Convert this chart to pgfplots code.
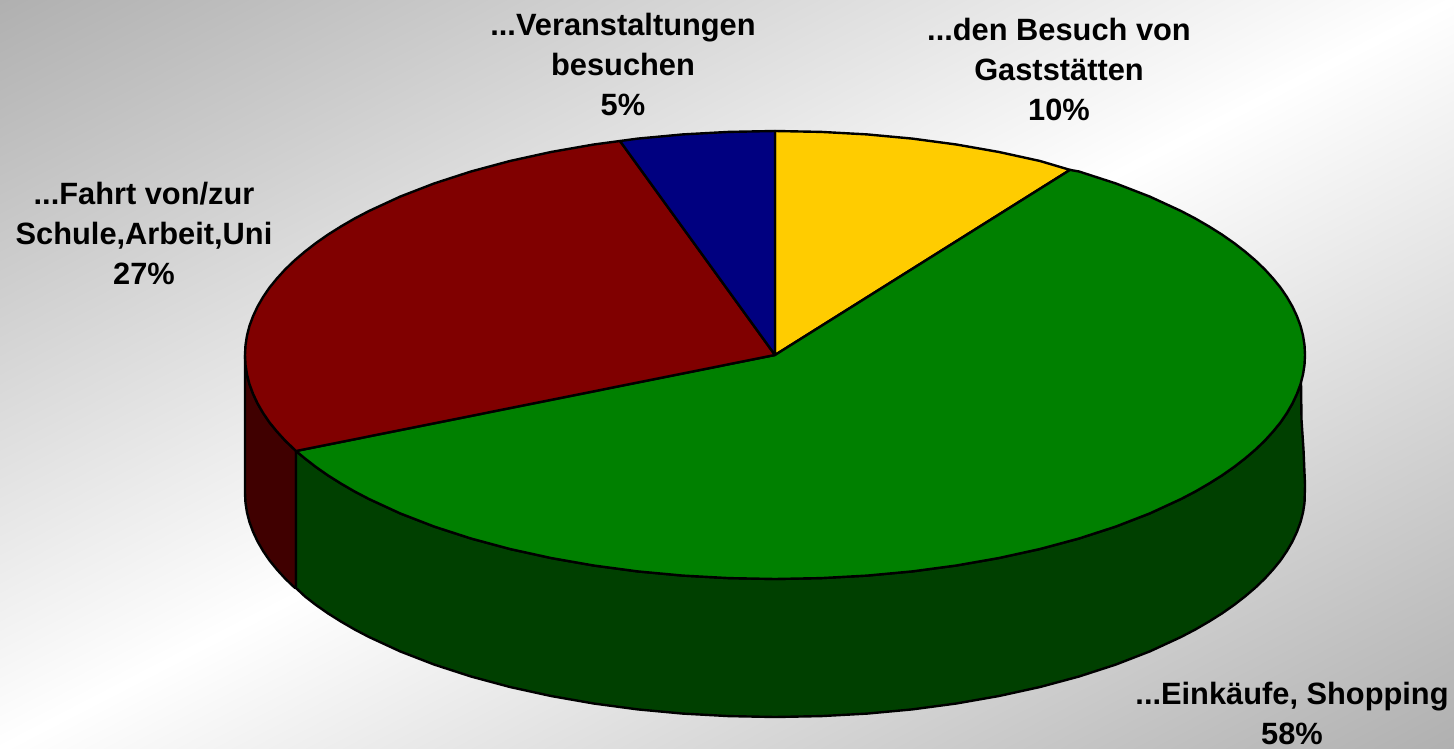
\documentclass[border=0pt]{standalone}
\usepackage{pgfplots}
\usepackage{fontspec}
\setmainfont{Liberation Sans}
\pgfplotsset{compat=1.18}
\definecolor{pieyellow}{HTML}{FFCC00}
\definecolor{piegreen}{HTML}{008000}
\definecolor{piegreendark}{HTML}{004000}
\definecolor{piered}{HTML}{800000}
\definecolor{pieredark}{HTML}{400000}
\definecolor{pieblue}{HTML}{000080}
\tikzset{lab/.style={font=\fontsize{30.8}{40}\selectfont\bfseries, align=center, text=black, inner sep=0pt}}
\begin{document}
\begin{tikzpicture}
\begin{axis}[
    width=1454pt,
    height=749pt,
    scale only axis,
    hide axis,
    xmin=0, xmax=1454,
    ymin=0, ymax=749,
    y dir=reverse,
    clip=false,
    colormap={bg}{rgb255=(176,176,176) rgb255=(255,255,255)},
    pie/.style={draw=black, line width=2.4pt, line join=round, mark=none},
]
% backdrop: two triangles split along the white diagonal
\addplot[patch, shader=interp, point meta=explicit, forget plot] coordinates {
    (0,0) [0] (1454,0) [1] (0,749) [1]
    (1454,749) [0] (1454,0) [1] (0,749) [1]
};
% side walls
\addplot[pie, fill=pieredark] coordinates {
    (245,355) (245.5,364.8) (247.0,374.5) (249.5,384.2) (253.1,393.9) (257.6,403.5) (263.1,413.0)
    (269.5,422.4) (277.0,431.6) (285.3,440.7) (294.7,449.7) (296,451)
    (296,588) (294.7,587.7) (285.3,578.7) (277.0,569.6) (269.5,560.4) (263.1,551.0) (257.6,541.5)
    (253.1,531.9) (249.5,522.2) (247.0,512.5) (245.5,502.8) (245,493)
} -- cycle;
\addplot[pie, fill=piegreendark] coordinates {
    (1301,383) (1296.9,393.9) (1292.4,403.5) (1286.9,413.0) (1280.5,422.4) (1273.0,431.6)
    (1264.7,440.7) (1255.3,449.7) (1245.1,458.4) (1234.0,467.0) (1222.0,475.4)
    (1209.1,483.5) (1195.5,491.4) (1181.0,499.0) (1149.8,513.4) (1115.7,526.6) (1079.0,538.5) (1040.0,549.0)
    (999.0,558.0) (956.3,565.5) (912.2,571.4) (867.0,575.6) (821.2,578.1) (775,579)
    (728.8,578.1) (683.0,575.6) (637.8,571.4) (593.7,565.5) (551.0,558.0) (510.0,549.0)
    (471.0,538.5) (434.3,526.6) (400.2,513.4) (369.0,499.0) (354.5,491.4) (340.9,483.5) (328.0,475.4) (316.0,467.0)
    (304.9,458.4) (296,451) (296,588)
    (304.9,596.4) (316.0,605.0) (328.0,613.4) (340.9,621.5) (354.5,629.4) (369.0,637.0) (400.2,651.4) (434.3,664.6) (471.0,676.5)
    (510.0,687.0) (551.0,696.0) (593.7,703.5) (637.8,709.4) (683.0,713.6) (728.8,716.1)
    (775,717) (821.2,716.1) (867.0,713.6) (912.2,709.4) (956.3,703.5) (999.0,696.0)
    (1040.0,687.0) (1079.0,676.5) (1115.7,664.6) (1149.8,651.4) (1181.0,637.0) (1195.5,629.4) (1209.1,621.5)
    (1222.0,613.4) (1234.0,605.0) (1245.1,596.4) (1255.3,587.7) (1264.7,578.7) (1273.0,569.6) (1280.5,560.4)
    (1286.9,551.0) (1292.4,541.5) (1296.9,531.9) (1300.5,522.2) (1303.0,512.5) (1304.5,502.8)
    (1305,485) (1303.5,450) (1301.5,420)
} -- cycle;
% top face
\addplot[pie, fill=pieyellow] coordinates {
    (775,355) (775,131) (821.2,131.9) (867.0,134.4) (912.2,138.6) (956.3,144.5) (999.0,152.0)
    (1040.0,161.0) (1070,169.9)
} -- cycle;
\addplot[pie, fill=piegreen] coordinates {
    (775,355) (1070,169.9) (1079.0,171.5) (1115.7,183.4) (1149.8,196.6) (1181.0,211.0)
    (1195.5,218.6) (1209.1,226.5) (1222.0,234.6) (1234.0,243.0) (1245.1,251.6) (1255.3,260.3)
    (1264.7,269.3) (1273.0,278.4) (1280.5,287.6) (1286.9,297.0) (1292.4,306.5) (1296.9,316.1)
    (1300.5,325.8) (1303.0,335.5) (1304.5,345.2) (1305,355) (1304.5,364.8) (1303.0,374.5) (1300.5,384.2)
    (1296.9,393.9) (1292.4,403.5) (1286.9,413.0) (1280.5,422.4) (1273.0,431.6)
    (1264.7,440.7) (1255.3,449.7) (1245.1,458.4) (1234.0,467.0) (1222.0,475.4) (1209.1,483.5) (1195.5,491.4)
    (1181.0,499.0) (1149.8,513.4) (1115.7,526.6)
    (1079.0,538.5) (1040.0,549.0) (999.0,558.0) (956.3,565.5) (912.2,571.4) (867.0,575.6)
    (821.2,578.1) (775,579) (728.8,578.1) (683.0,575.6) (637.8,571.4) (593.7,565.5)
    (551.0,558.0) (510.0,549.0) (471.0,538.5) (434.3,526.6) (400.2,513.4) (369.0,499.0)
    (354.5,491.4) (340.9,483.5) (328.0,475.4) (316.0,467.0) (304.9,458.4) (296,451)
} -- cycle;
\addplot[pie, fill=piered] coordinates {
    (775,355) (296,451) (294.7,449.7) (285.3,440.7) (277.0,431.6) (269.5,422.4) (263.1,413.0)
    (257.6,403.5) (253.1,393.9) (249.5,384.2) (247.0,374.5) (245.5,364.8)
    (245,355) (245.5,345.2) (247.0,335.5) (249.5,325.8) (253.1,316.1) (257.6,306.5) (263.1,297.0)
    (269.5,287.6) (277.0,278.4) (285.3,269.3) (294.7,260.3) (304.9,251.6) (316.0,243.0) (328.0,234.6)
    (340.9,226.5) (354.5,218.6) (369.0,211.0) (400.2,196.6) (434.3,183.4) (471.0,171.5) (510.0,161.0)
    (551.0,152.0) (593.7,144.5) (620,141)
} -- cycle;
\addplot[pie, fill=pieblue] coordinates {
    (775,355) (620,141) (637.8,138.6) (683.0,134.4) (728.8,131.9) (775,131)
} -- cycle;
% labels
\node[lab] at (axis cs:623,64) {...Veranstaltungen\\besuchen\\5\%};
\node[lab] at (axis cs:1059,69) {...den Besuch von\\Gaststätten\\10\%};
\node[lab] at (axis cs:144,233) {...Fahrt von/zur\\Schule,Arbeit,Uni\\27\%};
\node[lab] at (axis cs:1292,713) {...Einkäufe, Shopping\\58\%};
\end{axis}
\end{tikzpicture}
\end{document}
